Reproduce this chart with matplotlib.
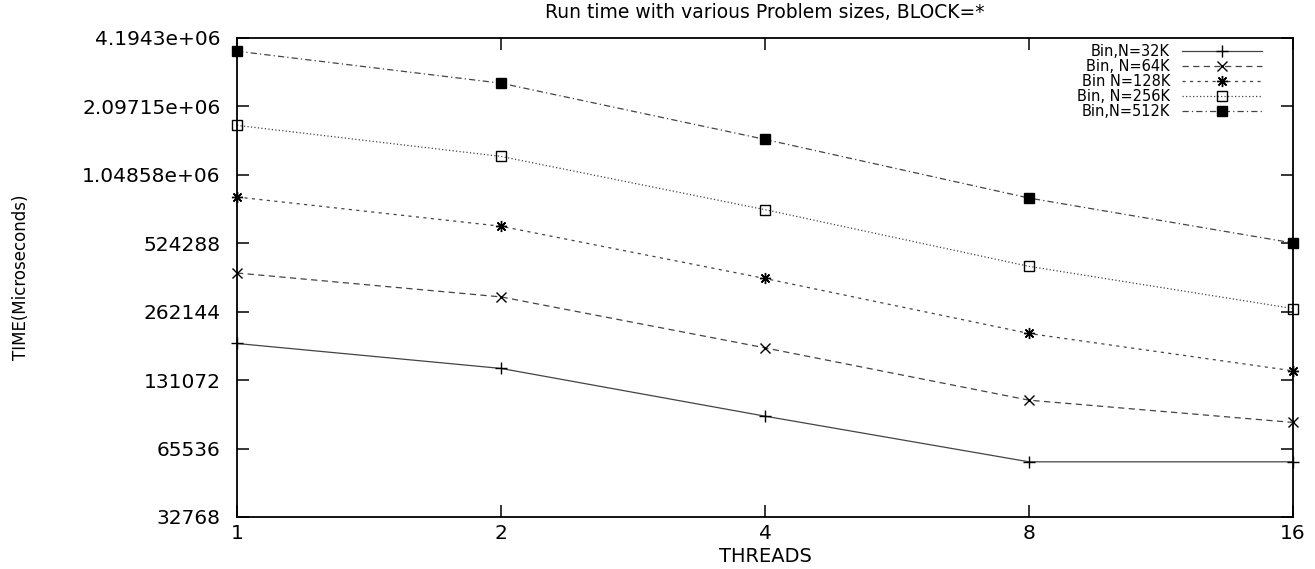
import matplotlib
matplotlib.use("Agg")
import matplotlib.pyplot as plt

# ── Data ────────────────────────────────────────────────────────────────────
threads = [1, 2, 4, 8, 16]

time_32k = [190000, 147600, 91000, 57300, 57300]
time_64k = [388000, 304600, 181800, 107000, 85400]
time_128k = [838000, 623000, 367000, 210300, 144000]
time_256k = [1731000, 1264000, 737000, 415000, 270700]
time_512k = [3669000, 2654000, 1502000, 829000, 526000]

labels = ["Bin,N=32K", "Bin, N=64K", "Bin N=128K", "Bin, N=256K", "Bin,N=512K"]

ytick_values = [32768, 65536, 131072, 262144, 524288, 1048576, 2097152, 4194304]
ytick_labels = ["32768", "65536", "131072", "262144", "524288",
                "1.04858e+06", "2.09715e+06", "4.1943e+06"]
xtick_labels = ["1", "2", "4", "8", "16"]

# ── Style ───────────────────────────────────────────────────────────────────
LINE_COLOR = "#444444"
plt.rcParams.update({
    "font.family": "DejaVu Sans",
    "axes.linewidth": 1.3,
})

series = [
    (time_32k, dict(linestyle="-", marker="+", markersize=8)),
    (time_64k, dict(linestyle=(0, (5, 3.5)), marker="x", markersize=7)),
    (time_128k, dict(linestyle=(0, (2.5, 3.5)), marker=(8, 2, 0), markersize=8)),
    (time_256k, dict(linestyle=(0, (1, 1.8)), marker="s", markersize=7.5,
                     markerfacecolor="none")),
    (time_512k, dict(linestyle=(0, (5, 2.5, 1, 2.5)), marker="s", markersize=7.5,
                     markerfacecolor="black")),
]

fig = plt.figure(figsize=(13.15, 5.69), dpi=100)
ax = fig.add_axes([237 / 1315, 1 - 517 / 569, (1293 - 237) / 1315, (517 - 38) / 569])

for (values, style), label in zip(series, labels):
    ax.plot(threads, values, color=LINE_COLOR, linewidth=0.9,
            markeredgecolor="black", markeredgewidth=1.0,
            label=label, clip_on=False, **style)

ax.set_xscale("log", base=2)
ax.set_yscale("log", base=2)
ax.set_xlim(1, 16)
ax.set_ylim(32768, 4194304)

ax.set_xticks(threads)
ax.set_xticklabels(xtick_labels)
ax.set_yticks(ytick_values)
ax.set_yticklabels(ytick_labels)
ax.minorticks_off()
ax.tick_params(direction="in", length=8.5, width=1.1, top=True, right=True,
               labelsize=14.5, colors="black")
ax.tick_params(axis="y", pad=12)
ax.tick_params(axis="x", pad=5)

leg = ax.legend(loc="upper right", bbox_to_anchor=(0.9706, 0.9875),
                frameon=False, fontsize=10.5, markerfirst=False,
                handlelength=5.5, handletextpad=0.8, labelspacing=0.0,
                borderpad=0, borderaxespad=0, numpoints=1)

fig.text(765 / 1315, 1 - 12 / 569, "Run time with various Problem sizes, BLOCK=*",
         ha="center", va="center", fontsize=13.5)
fig.text(765 / 1315, 1 - 556 / 569, "THREADS", ha="center", va="center", fontsize=14)
fig.text(21 / 1315, 1 - 277 / 569, "TIME(Microseconds)", rotation=90,
         ha="center", va="center", fontsize=12)

fig.savefig("out.png", dpi=100)
